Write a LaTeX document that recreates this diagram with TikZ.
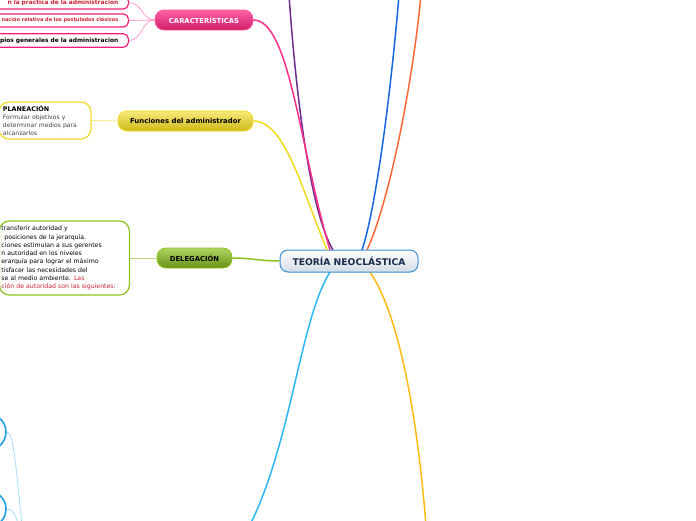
\documentclass[tikz,border=0pt]{standalone}
\usepackage{fontspec}
\setmainfont{DejaVu Sans}
\definecolor{purp}{HTML}{6E2C8E}
\definecolor{pinkb}{HTML}{FF2E88}
\definecolor{pinkl}{HTML}{FF9CC6}
\definecolor{pinkd}{HTML}{F0207A}
\definecolor{yelb}{HTML}{F2DA1E}
\definecolor{yell}{HTML}{F5E680}
\definecolor{blueb}{HTML}{1766E0}
\definecolor{orab}{HTML}{FF6633}
\definecolor{greenb}{HTML}{8CC21E}
\definecolor{greenl}{HTML}{B8DC78}
\definecolor{lblue}{HTML}{2BB6F5}
\definecolor{lbluel}{HTML}{A6DEF7}
\definecolor{cblue}{HTML}{1EA0E0}
\definecolor{gold}{HTML}{FFBB11}
\definecolor{redtxt}{HTML}{CC2233}
\definecolor{navy}{HTML}{1B2B4B}
\definecolor{graytxt}{HTML}{444444}
\definecolor{rootline}{HTML}{3C8FD4}
\definecolor{rootb}{HTML}{D3DCE6}
\begin{document}
\begin{tikzpicture}[x=1pt,y=-1pt,
  root/.style={draw=rootline, line width=1pt, rounded corners=8pt, top color=white, bottom color=rootb,
    minimum width=138pt, minimum height=22pt, inner sep=0pt, text=navy,
    font=\bfseries\fontsize{9.2}{11}\selectfont},
  mainbox/.style={rounded corners=9pt, minimum height=20pt, inner sep=0pt, line width=0.8pt,
    font=\bfseries\fontsize{6.6}{8}\selectfont},
  cchild/.style={draw=pinkd, line width=1.2pt, fill=white, rounded corners=5pt, inner ysep=0pt, inner xsep=10pt,
    minimum height=13pt, font=\bfseries\fontsize{5.9}{7}\selectfont},
  branch/.style={line width=1.5pt},
  sub/.style={line width=0.8pt},
]
\useasboundingbox (0,0) rectangle (696,520);
\clip (0,0) rectangle (696,520);

% ---------- main branches ----------
\coordinate (pA) at (333,250);
\coordinate (pB) at (330,250);
\coordinate (pC) at (327,250);
\coordinate (pD) at (362,250);
\coordinate (pE) at (367,250);
\coordinate (pF) at (330,272);
\coordinate (pG) at (370,272);
\coordinate (outA) at (289,-5);
\coordinate (outD) at (399,-5);
\coordinate (outE) at (421,-5);
\coordinate (outF) at (250,525);
\coordinate (outG) at (426,525);

\draw[branch, purp] (pA) .. controls (312,215) and (297,110) .. (outA);
\draw[branch, blueb] (pD) .. controls (377,205) and (392,80) .. (outD);
\draw[branch, orab] (pE) .. controls (390,200) and (413,80) .. (outE);
\draw[branch, lblue] (pF) .. controls (300,320) and (292,440) .. (outF);
\draw[branch, gold] (pG) .. controls (396,310) and (416,400) .. (outG);

% ---------- nodes ----------
\node[root] (root) at (349,261) {TEORÍA NEOCLÁSTICA};

\node[mainbox, draw=pinkb!80!white, top color=pinkb!75!white, bottom color=pinkd!85!black, text=white,
  minimum width=98pt, font=\bfseries\fontsize{6.8}{8}\selectfont] (car) at (204,20) {CARACTERÍSTICAS};
\node[mainbox, draw=yelb, top color=yelb!60!white, bottom color=yelb!85!black, text=black,
  minimum width=135pt, font=\bfseries\fontsize{6.9}{8}\selectfont] (fun) at (185.5,121) {Funciones del administrador};
\node[mainbox, draw=greenb, top color=greenb!70!white, bottom color=greenb!75!black, text=black,
  minimum width=75pt, font=\bfseries\fontsize{6.8}{8}\selectfont] (del) at (194.5,258) {DELEGACIÓN};

\draw[branch, pinkb] (car.east) .. controls (290,20) and (300,150) .. (pB);
\draw[branch, yelb] (fun.east) .. controls (285,121) and (302,190) .. (pC);
\draw[branch, greenb] (root.west) .. controls (262,261) and (250,258) .. (del.east);

% ---------- CARACTERÍSTICAS children ----------
\node[cchild, anchor=east, text width=160pt, align=right, text=redtxt] (k1) at (129,2.5)
  {n la practica de la administracion};
\node[cchild, anchor=east, text width=160pt, align=right, text=redtxt,
  font=\bfseries\fontsize{5.0}{7}\selectfont] (k2) at (129,20.5)
  {nación relativa de los postulados clásicos};
\node[cchild, anchor=east, text width=160pt, align=right, text=black, minimum height=13.5pt] (k3) at (129,40.5)
  {pios generales de la administracion};
\draw[sub, pinkl] (car.west) .. controls (142,20) and (142,2.5) .. (k1.east);
\draw[sub, pinkl] (car.west) -- (k2.east);
\draw[sub, pinkl] (car.west) .. controls (142,20) and (142,40.5) .. (k3.east);

% ---------- Funciones child ----------
\node[draw=yelb, line width=1.2pt, fill=white, rounded corners=10pt, anchor=east,
  minimum height=37pt, text width=84pt, inner xsep=4pt, align=left,
  font=\fontsize{6.1}{8}\selectfont, text=graytxt] (plan) at (91.5,120.5)
  {{\bfseries\fontsize{6.4}{8}\selectfont\color{black}PLANEACIÓN}\\
   Formular objetivos y\\
   determinar medios para\\
   alcanzarlos};
\draw[sub, yell] (fun.west) -- (plan.east);

% ---------- DELEGACIÓN child ----------
\node[draw=greenb, line width=1.2pt, fill=white, rounded corners=10pt, anchor=east,
  minimum height=74pt, text width=126pt, inner xsep=2pt, align=left,
  font=\fontsize{6.2}{8.25}\selectfont, text=black] (dtext) at (130,258)
  {transferir autoridad y\\
   \hspace*{3pt}posiciones de la jerarquía.\\
   ciones estimulan a sus gerentes\\
   n autoridad en los niveles\\
   erarquía para lograr el máximo\\
   tisfacer las necesidades del\\
   se al medio ambiente. \textcolor{redtxt}{Las}\\
   \textcolor{redtxt}{ción de autoridad son las siguientes:}};
\draw[sub, greenl] (del.west) -- (dtext.east);

% ---------- bottom-left circles ----------
\node[draw=cblue, line width=1.6pt, circle, minimum size=36pt, inner sep=0pt] (c1) at (-12,432) {};
\node[draw=cblue, line width=1.6pt, circle, minimum size=36pt, inner sep=0pt] (c2) at (-12,509) {};
\coordinate (lp1) at (22,525);
\coordinate (lp2) at (18,524);
\draw[sub, lbluel] (c1.east) .. controls (14,432) and (16,470) .. (lp1);
\draw[sub, lbluel] (c2.east) .. controls (12,509) and (16,514) .. (lp2);
\end{tikzpicture}
\end{document}
